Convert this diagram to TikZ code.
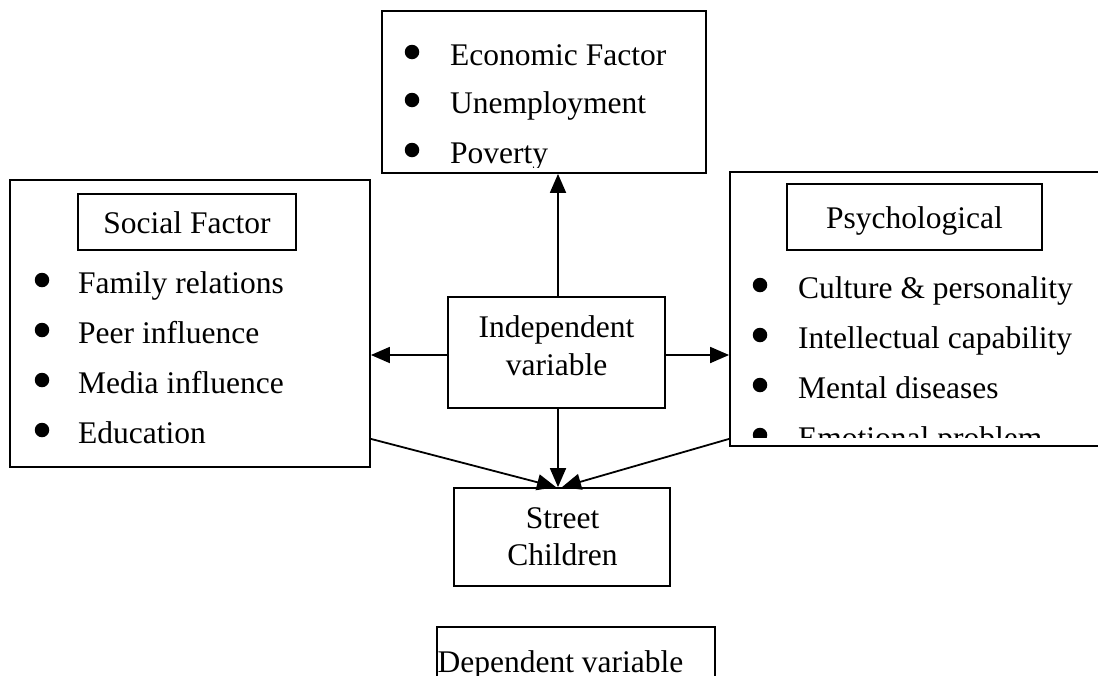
\documentclass[tikz,border=0pt]{standalone}
\usepackage{fontspec}
\setmainfont{Liberation Serif}
\usetikzlibrary{arrows.meta,calc}
\begin{document}
\begin{tikzpicture}[x=1pt,y=-1pt,
  box/.style={draw,line width=1.8pt,inner sep=0pt,rectangle},
  txt/.style={inner sep=0pt,font=\fontsize{31.5}{38}\selectfont},
  item/.style={txt,anchor=base west},
  ctr/.style={txt,anchor=base},
  bul/.style={circle,fill=black,inner sep=0pt,minimum size=14.5pt},
  arr/.style={line width=1.8pt,-{Triangle[length=19pt,width=16pt]}}]
\useasboundingbox (0,0) rectangle (1098,675);
\clip (0,0) rectangle (1098,675);
\fill[white] (0,0) rectangle (1098,675);

% top box: economic
\node[box,minimum width=324pt,minimum height=162pt] (eco) at (544,92) {};
\begin{scope}
\clip (383,12) rectangle (705,167);
\node[bul] (b1) at (412,52) {};
\node[item] (e1) at (450,65) {Economic Factor};
\node[bul] (b2) at (412,100) {};
\node[item] (e2) at (450,113) {Unemployment};
\node[bul] (b3) at (412,150) {};
\node[item] (e3) at (450,163) {Poverty};
\end{scope}

% left box: social
\node[box,minimum width=360pt,minimum height=287pt] (soc) at (190,323.5) {};
\node[box,minimum width=218pt,minimum height=56pt] (soct) at (187,222) {};
\node[ctr] (soctt) at (187,233) {Social Factor};
\node[bul] (s1) at (42,280) {};
\node[item] (st1) at (78,293) {Family relations};
\node[bul] (s2) at (42,330) {};
\node[item] (st2) at (78,343) {Peer influence};
\node[bul] (s3) at (42,380) {};
\node[item] (st3) at (78,393) {Media influence};
\node[bul] (s4) at (42,430) {};
\node[item] (st4) at (78,443) {Education};

% right box: psychological
\node[box,minimum width=390pt,minimum height=274pt] (psy) at (925,309) {};
\node[box,minimum width=255pt,minimum height=66pt] (psyt) at (914.5,217) {};
\node[ctr] (psytt) at (914.5,228) {Psychological};
\begin{scope}
\clip (731,173) rectangle (1110,437);
\node[bul] (p1) at (760,285) {};
\node[item] (pt1) at (798,298) {Culture \& personality};
\node[bul] (p2) at (760,335) {};
\node[item] (pt2) at (798,348) {Intellectual capability};
\node[bul] (p3) at (760,385) {};
\node[item] (pt3) at (798,398) {Mental diseases};
\node[bul] (p4) at (760,435) {};
\node[item] (pt4) at (798,448) {Emotional problem};
\end{scope}

% independent variable
\node[box,minimum width=217pt,minimum height=111pt] (ind) at (556.5,352.5) {};
\node[ctr] (ind1) at (556.5,337) {Independent};
\node[ctr] (ind2) at (556.5,375) {variable};

% street children
\node[box,minimum width=216pt,minimum height=98pt] (str) at (562,537) {};
\node[ctr] (str1) at (562.5,528) {Street};
\node[ctr] (str2) at (562.5,565) {Children};

% dependent variable
\node[box,minimum width=278pt,minimum height=80pt] (dep) at (576,667) {};
\node[ctr] (dept) at (560.5,672) {Dependent variable};

% connectors
\coordinate (ii) at (558,352.5);
\draw[arr] (ii |- ind.north) -- (ii |- eco.south);
\draw[arr] (ind.west |- 0,355) -- (soc.east |- 0,355);
\draw[arr] (ind.east |- 0,355) -- (psy.west |- 0,355);
\draw[arr] (ii |- ind.south) -- (ii |- str.north);
\draw[arr] ($(soc.south east)+(0,-29)$) -- ($(str.north)+(-6,0)$);
\draw[arr] ($(psy.south west)+(0,-8)$) -- ($(str.north)+(0,0)$);
\end{tikzpicture}
\end{document}
